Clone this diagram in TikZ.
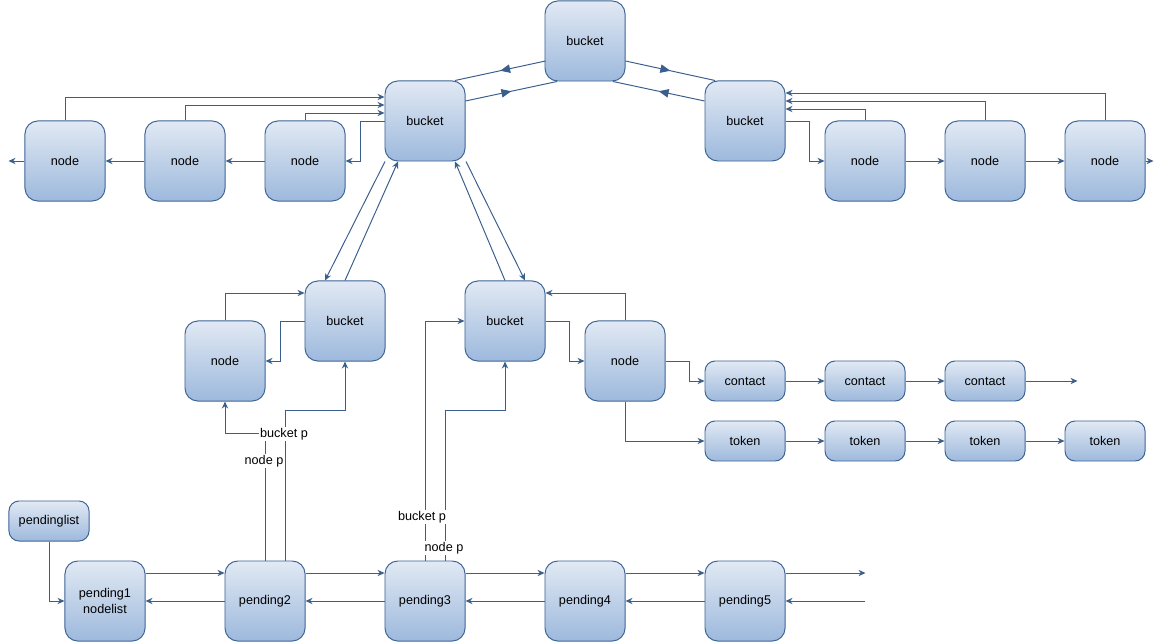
\documentclass[tikz,border=0pt]{standalone}
\usepackage{fontspec}
\setmainfont{Liberation Sans}
\usetikzlibrary{arrows.meta,decorations.markings}
\definecolor{boxline}{HTML}{3C6496}
\definecolor{boxtop}{HTML}{E1E9F4}
\definecolor{boxbot}{HTML}{9DB9DC}
\definecolor{wire}{HTML}{3B5F8C}
\tikzset{
  box/.style={draw=boxline,line width=0.7pt,rounded corners=0.32cm,top color=boxtop,bottom color=boxbot,
    minimum width=2cm,minimum height=2cm,inner sep=1pt,font=\fontsize{9}{11}\selectfont,align=center},
  smallbox/.style={box,minimum height=1cm,rounded corners=0.25cm},
  link/.style={draw=wire,line width=0.7pt,-{Stealth[length=5pt,width=4.5pt]}},
  line/.style={draw=wire,line width=0.7pt},
  midlink/.style={line,postaction={decorate},decoration={markings,
    mark=at position 0.5 with {\arrow{Triangle[length=7pt,width=6pt]}}}},
  lbl/.style={fill=white,inner sep=1pt,font=\fontsize{9}{11}\selectfont}
}
\begin{document}
\begin{tikzpicture}[x=0.025cm,y=-0.025cm]
  \useasboundingbox (0,0) rectangle (1162,642);
  \node[box] (top) at (585,41) {bucket};
  \node[box] (b1) at (425,121) {bucket};
  \node[box] (b2) at (745,121) {bucket};
  \node[box] (n1) at (65,161) {node};
  \node[box] (n2) at (185,161) {node};
  \node[box] (n3) at (305,161) {node};
  \node[box] (r1) at (865,161) {node};
  \node[box] (r2) at (985,161) {node};
  \node[box] (r3) at (1105,161) {node};
  \node[box] (b3) at (345,321) {bucket};
  \node[box] (n4) at (225,361) {node};
  \node[box] (b4) at (505,321) {bucket};
  \node[box] (n5) at (625,361) {node};
  \node[smallbox] (c1) at (745,381) {contact};
  \node[smallbox] (c2) at (865,381) {contact};
  \node[smallbox] (c3) at (985,381) {contact};
  \node[smallbox] (t1) at (745,441) {token};
  \node[smallbox] (t2) at (865,441) {token};
  \node[smallbox] (t3) at (985,441) {token};
  \node[smallbox] (t4) at (1105,441) {token};
  \node[smallbox] (plist) at (49,521) {pendinglist};
  \node[box] (p1) at (105,601) {pending1\\nodelist};
  \node[box] (p2) at (265,601) {pending2};
  \node[box] (p3) at (425,601) {pending3};
  \node[box] (p4) at (585,601) {pending4};
  \node[box] (p5) at (745,601) {pending5};

  \draw[midlink] ([shift={(1,20)}]top.west) -- ([shift={(30,0)}]b1.north);
  \draw[midlink] ([shift={(0,-20)}]b1.east) -- ([shift={(-28,0)}]top.south);
  \draw[midlink] ([shift={(0,20)}]top.east) -- ([shift={(-30,0)}]b2.north);
  \draw[midlink] ([shift={(0,-20)}]b2.west) -- ([shift={(28,0)}]top.south);

  \draw[link] (n1.north) |- ([shift={(0,-24)}]b1.west);
  \draw[link] (n2.north) |- ([shift={(0,-16)}]b1.west);
  \draw[link] (n3.north) |- ([shift={(0,-8)}]b1.west);
  \draw[link] (b1.west) -- ++(-24,0) |- (n3.east);
  \draw[link] (n3.west) -- (n2.east);
  \draw[link] (n2.west) -- (n1.east);
  \draw[link] (n1.west) -- ++(-16,0);

  \draw[link] (b2.east) -- ++(24,0) |- (r1.west);
  \draw[link] (r1.north) |- ([shift={(0,-12)}]b2.east);
  \draw[link] (r2.north) |- ([shift={(0,-20)}]b2.east);
  \draw[link] (r3.north) |- ([shift={(0,-28)}]b2.east);
  \draw[link] (r1.east) -- (r2.west);
  \draw[link] (r2.east) -- (r3.west);
  \draw[link] (r3.east) -- ++(8,0);

  \draw[link] ([shift={(-40,0)}]b1.south) -- ([shift={(-20,0)}]b3.north);
  \draw[link] (b3.north) -- ([shift={(-27,0)}]b1.south);
  \draw[link] (b4.north) -- ([shift={(30,0)}]b1.south);
  \draw[link] ([shift={(41,0)}]b1.south) -- ([shift={(20,0)}]b4.north);

  \draw[link] (n4.north) |- ([shift={(0,-28)}]b3.west);
  \draw[link] (b3.west) -- ++(-24,0) |- (n4.east);
  \draw[link] (p2.north) -- ++(0,-127) -| (n4.south);
  \draw[link] ([shift={(20,0)}]p2.north) -- ++(0,-150) -| (b3.south);
  \node[lbl] (bp2) at (284,434) {bucket p};
  \node[lbl] (np2) at (264,461) {node p};

  \draw[link] (p3.north) |- (b4.west);
  \draw[link] ([shift={(20,0)}]p3.north) -- ++(0,-150) -| (b4.south);
  \node[lbl] (bp3) at (422,517) {bucket p};
  \node[lbl] (np3) at (444,548) {node p};

  \draw[link] (b4.east) -- ++(24,0) |- (n5.west);
  \draw[link] (n5.north) |- ([shift={(0,-28)}]b4.east);
  \draw[link] (n5.east) -- ++(24,0) |- (c1.west);
  \draw[link] (n5.south) |- (t1.west);
  \draw[link] (c1.east) -- (c2.west);
  \draw[link] (c2.east) -- (c3.west);
  \draw[link] (c3.east) -- ++(52,0);
  \draw[link] (t1.east) -- (t2.west);
  \draw[link] (t2.east) -- (t3.west);
  \draw[link] (t3.east) -- (t4.west);

  \draw[link] (plist.south) |- (p1.west);
  \draw[link] ([shift={(0,-28)}]p1.east) -- ([shift={(0,-28)}]p2.west);
  \draw[link] ([shift={(0,-28)}]p2.east) -- ([shift={(0,-28)}]p3.west);
  \draw[link] ([shift={(0,-28)}]p3.east) -- ([shift={(0,-28)}]p4.west);
  \draw[link] ([shift={(0,-28)}]p4.east) -- ([shift={(0,-28)}]p5.west);
  \draw[link] ([shift={(0,-28)}]p5.east) -- ++(80,0);
  \draw[link] (p2.west) -- (p1.east);
  \draw[link] (p3.west) -- (p2.east);
  \draw[link] (p4.west) -- (p3.east);
  \draw[link] (p5.west) -- (p4.east);
  \coordinate (tail) at (865,601);
  \draw[link] (tail) -- (p5.east);
\end{tikzpicture}
\end{document}
